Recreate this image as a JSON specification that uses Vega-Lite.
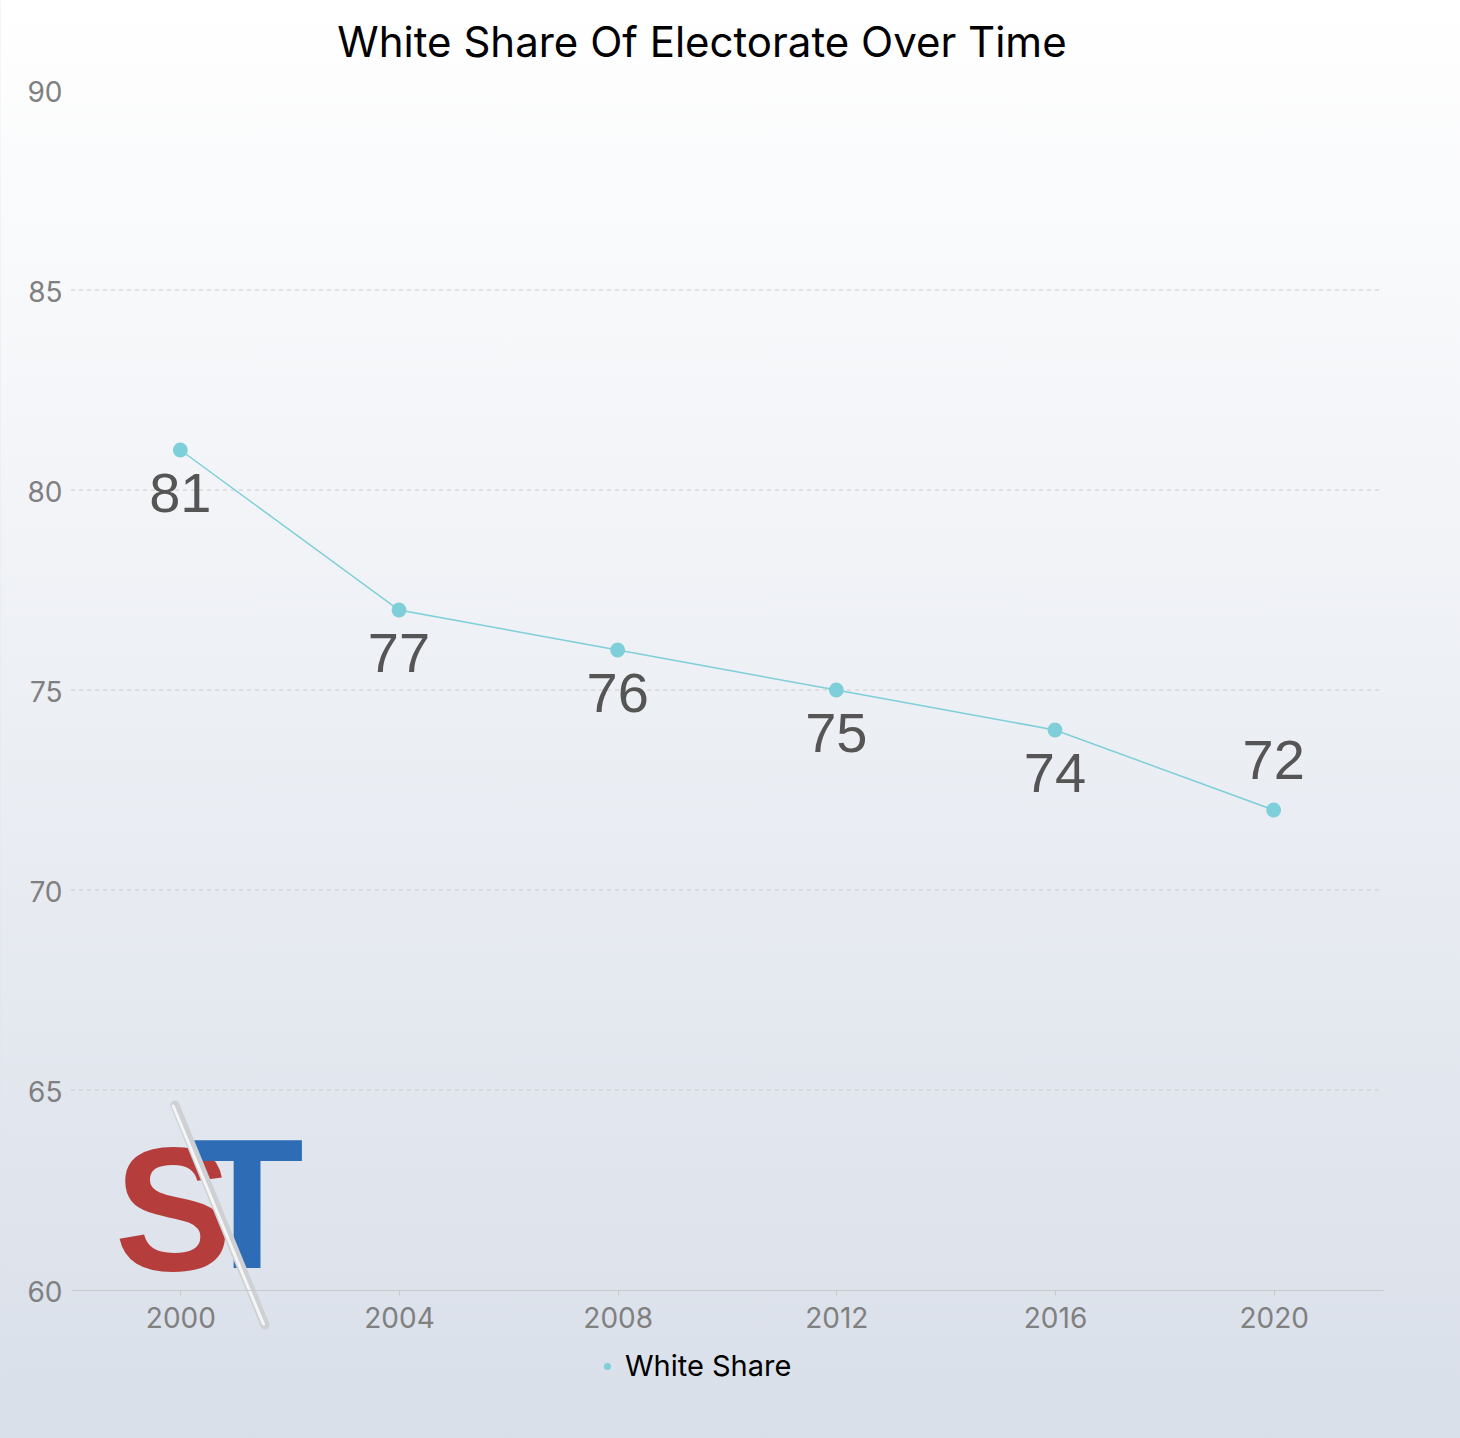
{
  "$schema": "https://vega.github.io/schema/vega-lite/v6.json",
  "width": 1312,
  "height": 1200,
  "autosize": {"type": "none"},
  "padding": {"left": 71, "top": 90, "right": 77, "bottom": 148},
  "background": "#dde2ec",
  "title": {
    "text": "White Share Of Electorate Over Time",
    "font": "Inter",
    "fontSize": 42,
    "fontWeight": "normal",
    "color": "#000000",
    "anchor": "middle",
    "baseline": "alphabetic",
    "dx": -25,
    "offset": -99
  },
  "config": {"view": {"stroke": null}},
  "datasets": {
    "share": [
      {"year": 2000, "value": 81, "series": "White Share"},
      {"year": 2004, "value": 77, "series": "White Share"},
      {"year": 2008, "value": 76, "series": "White Share"},
      {"year": 2012, "value": 75, "series": "White Share"},
      {"year": 2016, "value": 74, "series": "White Share"},
      {"year": 2020, "value": 72, "series": "White Share"}
    ],
    "grid": [{"v": 65}, {"v": 70}, {"v": 75}, {"v": 80}, {"v": 85}]
  },
  "layer": [
    {
      "data": {"values": [{}]},
      "mark": {
        "type": "rect",
        "fill": {
          "gradient": "linear",
          "x1": 0, "y1": 0, "x2": 0, "y2": 1,
          "stops": [
            {"offset": 0, "color": "#ffffff"},
            {"offset": 0.5, "color": "#eceff4"},
            {"offset": 1, "color": "#d9dfe9"}
          ]
        }
      },
      "encoding": {
        "x": {"datum": 1996.707, "type": "quantitative", "scale": {"domain": [1998, 2022], "nice": false, "zero": false}},
        "x2": {"datum": 2023.42},
        "y": {"datum": 92.25, "type": "quantitative", "scale": {"domain": [60, 90], "nice": false, "zero": false}},
        "y2": {"datum": 56.3}
      }
    },
    {
      "data": {"name": "grid"},
      "mark": {"type": "rule", "stroke": "#cccccc", "strokeWidth": 1, "strokeDash": [4, 4]},
      "encoding": {
        "y": {"field": "v", "type": "quantitative"},
        "x": {"datum": 1998, "type": "quantitative"},
        "x2": {"datum": 2022}
      }
    },
    {
      "data": {"values": [{}]},
      "mark": {"type": "text", "text": "S", "font": "Liberation Sans", "fontSize": 176, "fontWeight": "bold", "fill": "#b53e3c", "align": "center", "baseline": "alphabetic"},
      "encoding": {
        "x": {"datum": 1999.87, "type": "quantitative"},
        "y": {"datum": 60.5, "type": "quantitative"}
      }
    },
    {
      "data": {"values": [{}]},
      "mark": {"type": "text", "text": "T", "font": "Liberation Sans", "fontSize": 186, "fontWeight": "bold", "fill": "#2e6db5", "align": "center", "baseline": "alphabetic"},
      "encoding": {
        "x": {"datum": 2001.22, "type": "quantitative"},
        "y": {"datum": 60.55, "type": "quantitative"}
      }
    },
    {
      "data": {"values": [{}]},
      "mark": {"type": "rule", "stroke": "#cfd0d3", "strokeWidth": 9, "strokeCap": "round"},
      "encoding": {
        "x": {"datum": 1999.9, "type": "quantitative"},
        "y": {"datum": 64.625, "type": "quantitative"},
        "x2": {"datum": 2001.55},
        "y2": {"datum": 59.125}
      }
    },
    {
      "data": {"values": [{}]},
      "mark": {"type": "rule", "stroke": "#f4f5f7", "strokeWidth": 3, "strokeCap": "round"},
      "encoding": {
        "x": {"datum": 1999.87, "type": "quantitative"},
        "y": {"datum": 64.6, "type": "quantitative"},
        "x2": {"datum": 2001.52},
        "y2": {"datum": 59.15}
      }
    },
    {
      "data": {"name": "share"},
      "mark": {"type": "line", "stroke": "#7ecfd9", "strokeWidth": 1.5},
      "encoding": {
        "x": {
          "field": "year", "type": "quantitative",
          "scale": {"domain": [1998, 2022], "nice": false, "zero": false},
          "axis": {
            "title": null, "values": [2000, 2004, 2008, 2012, 2016, 2020], "format": "d",
            "grid": false, "zindex": 1, "labelFlush": false,
            "domainColor": "#c8c8c8", "domainWidth": 1,
            "tickColor": "#c8c8c8", "tickSize": 5,
            "labelFont": "Inter", "labelFontSize": 28, "labelColor": "#808080", "labelPadding": 10
          }
        },
        "y": {
          "field": "value", "type": "quantitative",
          "scale": {"domain": [60, 90], "nice": false, "zero": false},
          "axis": {
            "title": null, "values": [60, 65, 70, 75, 80, 85, 90],
            "grid": false, "domain": false, "ticks": false, "zindex": 1, "labelFlush": false,
            "labelFont": "Inter", "labelFontSize": 28, "labelColor": "#808080", "labelPadding": 9, "labelOffset": 3
          }
        }
      }
    },
    {
      "data": {"name": "share"},
      "mark": {"type": "point", "filled": true, "opacity": 1, "size": 220, "shape": "circle"},
      "encoding": {
        "x": {"field": "year", "type": "quantitative"},
        "y": {"field": "value", "type": "quantitative"},
        "color": {
          "field": "series", "type": "nominal",
          "scale": {"range": ["#7ecfd9"]},
          "legend": {
            "title": null, "orient": "none", "legendX": 522, "legendY": 1262,
            "symbolType": "circle", "symbolSize": 50, "symbolOpacity": 1,
            "labelFont": "Inter", "labelFontSize": 29, "labelColor": "#000000", "labelOffset": 3, "labelLimit": 400
          }
        }
      }
    },
    {
      "data": {"name": "share"},
      "transform": [{"filter": "datum.year != 2020"}],
      "mark": {"type": "text", "font": "Liberation Sans", "fontSize": 56, "fill": "#555555", "align": "center", "baseline": "alphabetic", "dy": 62},
      "encoding": {
        "x": {"field": "year", "type": "quantitative"},
        "y": {"field": "value", "type": "quantitative"},
        "text": {"field": "value", "type": "quantitative"}
      }
    },
    {
      "data": {"name": "share"},
      "transform": [{"filter": "datum.year == 2020"}],
      "mark": {"type": "text", "font": "Liberation Sans", "fontSize": 56, "fill": "#555555", "align": "center", "baseline": "alphabetic", "dy": -31},
      "encoding": {
        "x": {"field": "year", "type": "quantitative"},
        "y": {"field": "value", "type": "quantitative"},
        "text": {"field": "value", "type": "quantitative"}
      }
    }
  ]
}
